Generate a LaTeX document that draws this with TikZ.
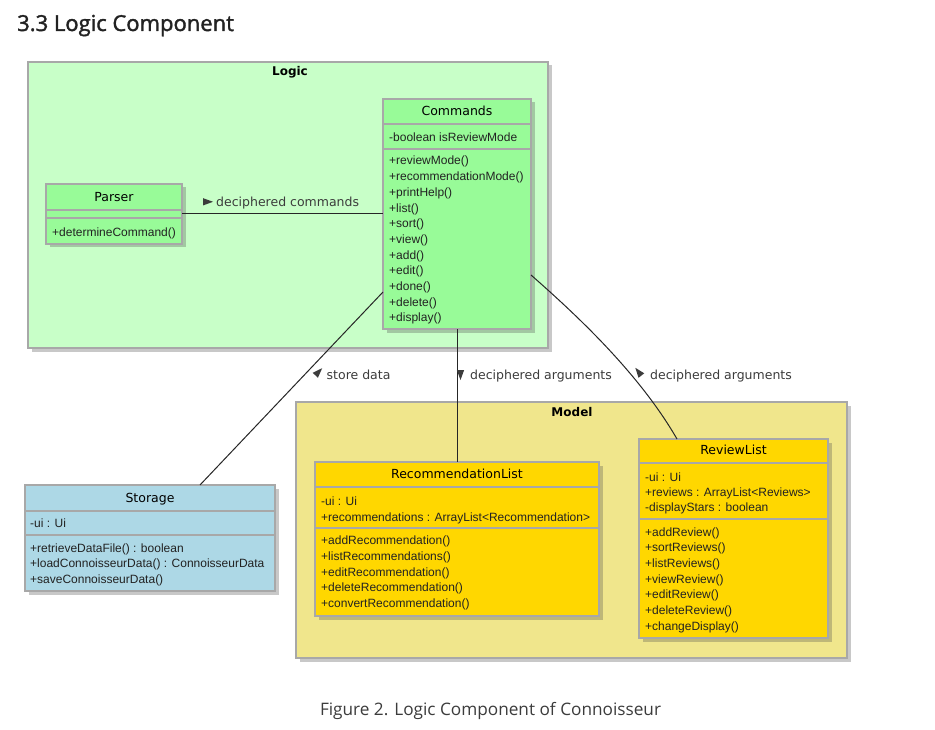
\documentclass[tikz,border=0pt]{standalone}
\usepackage{fontspec}
\setmainfont{Liberation Sans}
\newfontfamily\memfont{Liberation Sans}
\newfontfamily\umlfont{DejaVu Sans}
\newfontfamily\pagefont{Open Sans}
\newfontfamily\pageheadfont[FakeBold=1.6]{Open Sans}
\usetikzlibrary{calc,shadows}
\definecolor{logicbg}{RGB}{200,255,200}
\definecolor{cmdgreen}{RGB}{152,251,152}
\definecolor{storeblue}{RGB}{173,216,230}
\definecolor{modelbg}{RGB}{240,230,140}
\definecolor{goldc}{RGB}{255,215,0}
\definecolor{bordc}{RGB}{168,168,168}
\definecolor{inkc}{RGB}{34,34,34}
\definecolor{labc}{RGB}{60,60,60}
\newcommand\labtri[2]{\fill[labc] ($(#1)+({#2}:6)$) -- ($(#1)+({#2+137}:5.3)$) -- ($(#1)+({#2-137}:5.3)$) -- cycle;}
\tikzset{
  shad/.style={drop shadow={shadow xshift=3.5pt, shadow yshift=-3.5pt, fill=black!70, opacity=0.3}},
  pkg/.style={draw=bordc, line width=1.5pt, inner sep=0pt, outer sep=0pt, anchor=north west, shad},
  cls/.style={draw=bordc, line width=1.5pt, inner sep=0pt, outer sep=0pt, anchor=north west, shad},
  sepl/.style={draw=bordc, line width=1.2pt},
  cname/.style={font=\umlfont\fontsize{12.5}{15}\selectfont, text=black, anchor=base, inner sep=0pt},
  mem/.style={font=\memfont\fontsize{12}{14}\selectfont, text=inkc, anchor=base west, inner sep=0pt},
  ptitle/.style={font=\umlfont\bfseries\fontsize{12}{14}\selectfont, text=black, anchor=base, inner sep=0pt},
  lab/.style={font=\umlfont\fontsize{12.5}{15}\selectfont, text=labc, anchor=base west, inner sep=0pt},
  conn/.style={draw=black!85, line width=1pt}
}
\begin{document}
\begin{tikzpicture}[x=1pt,y=-1pt]
\useasboundingbox (0,0) rectangle (935,730);
\fill[white] (0,0) rectangle (935,730);

\node[anchor=base west, font=\pageheadfont\fontsize{22}{26}\selectfont, text=inkc, inner sep=0pt] (pagetitle) at (17,31) {3.3 Logic Component};

% Logic package
\node[pkg, fill=logicbg, minimum width=520pt, minimum height=286pt] (logic) at (28,62) {};
\node[ptitle] (logicT) at (290,76) {Logic};

% Commands
\node[cls, fill=cmdgreen, minimum width=148pt, minimum height=230pt] (cmd) at (383,99) {};
\draw[sepl] ($(cmd.north west)+(0,25)$) -- ($(cmd.north east)+(0,25)$);
\draw[sepl] ($(cmd.north west)+(0,50)$) -- ($(cmd.north east)+(0,50)$);
\node[cname] (cmdT) at (457,116) {Commands};
\node[mem] (cmdA) at (389,142) {-boolean isReviewMode};
\foreach [count=\i from 0] \t in {+reviewMode(),+recommendationMode(),+printHelp(),+list(),+sort(),+view(),+add(),+edit(),+done(),+delete(),+display()}
  \node[mem] (cmdm\i) at (389,{165+15.67*\i}) {\t};

% Parser
\node[cls, fill=cmdgreen, minimum width=136pt, minimum height=60pt] (parser) at (46,184) {};
\draw[sepl] ($(parser.north west)+(0,26)$) -- ($(parser.north east)+(0,26)$);
\draw[sepl] ($(parser.north west)+(0,34)$) -- ($(parser.north east)+(0,34)$);
\node[cname] (parserT) at (114,202) {Parser};
\node[mem] (parserM) at (52,237) {+determineCommand()};

% Storage
\node[cls, fill=storeblue, minimum width=250pt, minimum height=106pt] (storage) at (25,485) {};
\draw[sepl] ($(storage.north west)+(0,26)$) -- ($(storage.north east)+(0,26)$);
\draw[sepl] ($(storage.north west)+(0,50)$) -- ($(storage.north east)+(0,50)$);
\node[cname] (storageT) at (150,502) {Storage};
\node[mem] (storageA) at (30,527) {-ui : Ui};
\node[mem] (storageM0) at (30,552) {+retrieveDataFile() : boolean};
\node[mem] (storageM1) at (30,567.5) {+loadConnoisseurData() : ConnoisseurData};
\node[mem] (storageM2) at (30,583) {+saveConnoisseurData()};

% Model package
\node[pkg, fill=modelbg, minimum width=551pt, minimum height=256pt] (model) at (296,402) {};
\node[ptitle] (modelT) at (572,416) {Model};

% RecommendationList
\node[cls, fill=goldc, minimum width=284pt, minimum height=154pt] (reclist) at (315,462) {};
\draw[sepl] ($(reclist.north west)+(0,25)$) -- ($(reclist.north east)+(0,25)$);
\draw[sepl] ($(reclist.north west)+(0,66)$) -- ($(reclist.north east)+(0,66)$);
\node[cname] (reclistT) at (457,478) {RecommendationList};
\node[mem] (reclistA0) at (321,505) {-ui : Ui};
\node[mem] (reclistA1) at (321,521) {+recommendations : ArrayList<Recommendation>};
\foreach [count=\i from 0] \t in {+addRecommendation(),+listRecommendations(),+editRecommendation(),+deleteRecommendation(),+convertRecommendation()}
  \node[mem] (reclistm\i) at (321,{544.3+15.85*\i}) {\t};

% ReviewList
\node[cls, fill=goldc, minimum width=189pt, minimum height=199pt] (revlist) at (639,439) {};
\draw[sepl] ($(revlist.north west)+(0,24)$) -- ($(revlist.north east)+(0,24)$);
\draw[sepl] ($(revlist.north west)+(0,80)$) -- ($(revlist.north east)+(0,80)$);
\node[cname] (revlistT) at (733.5,454) {ReviewList};
\node[mem] (revlistA0) at (645,481) {-ui : Ui};
\node[mem] (revlistA1) at (645,496.3) {+reviews : ArrayList<Reviews>};
\node[mem] (revlistA2) at (645,511.7) {-displayStars : boolean};
\foreach [count=\i from 0] \t in {+addReview(),+sortReviews(),+listReviews(),+viewReview(),+editReview(),+deleteReview(),+changeDisplay()}
  \node[mem] (revlistm\i) at (645,{536+15.67*\i}) {\t};

% connectors
\draw[conn] (parser.east) -- (parser.east -| cmd.west);
\draw[conn] ($(cmd.north west)+(0,193)$) -- ($(storage.north)+(50,0)$);
\draw[conn] (cmd.south) -- (reclist.north);
\draw[conn] ($(cmd.north east)+(0,176)$) .. controls (580,318) and (640,375) .. ($(revlist.north west)+(38,0)$);

% labels
\labtri{207,201.8}{0}
\node[lab] (l1) at (216,207) {deciphered commands};
\labtri{318,372.5}{-46}
\node[lab] (l2) at (326.5,379) {store data};
\labtri{460.5,374}{90}
\node[lab] (l3) at (470,379) {deciphered arguments};
\labtri{639,372.5}{-128}
\node[lab] (l4) at (650,379) {deciphered arguments};

\node[anchor=base, font=\pagefont\fontsize{17.2}{20}\selectfont, text=labc, inner sep=0pt] (caption) at (490.5,715) {Figure 2. Logic Component of Connoisseur};
\end{tikzpicture}
\end{document}
